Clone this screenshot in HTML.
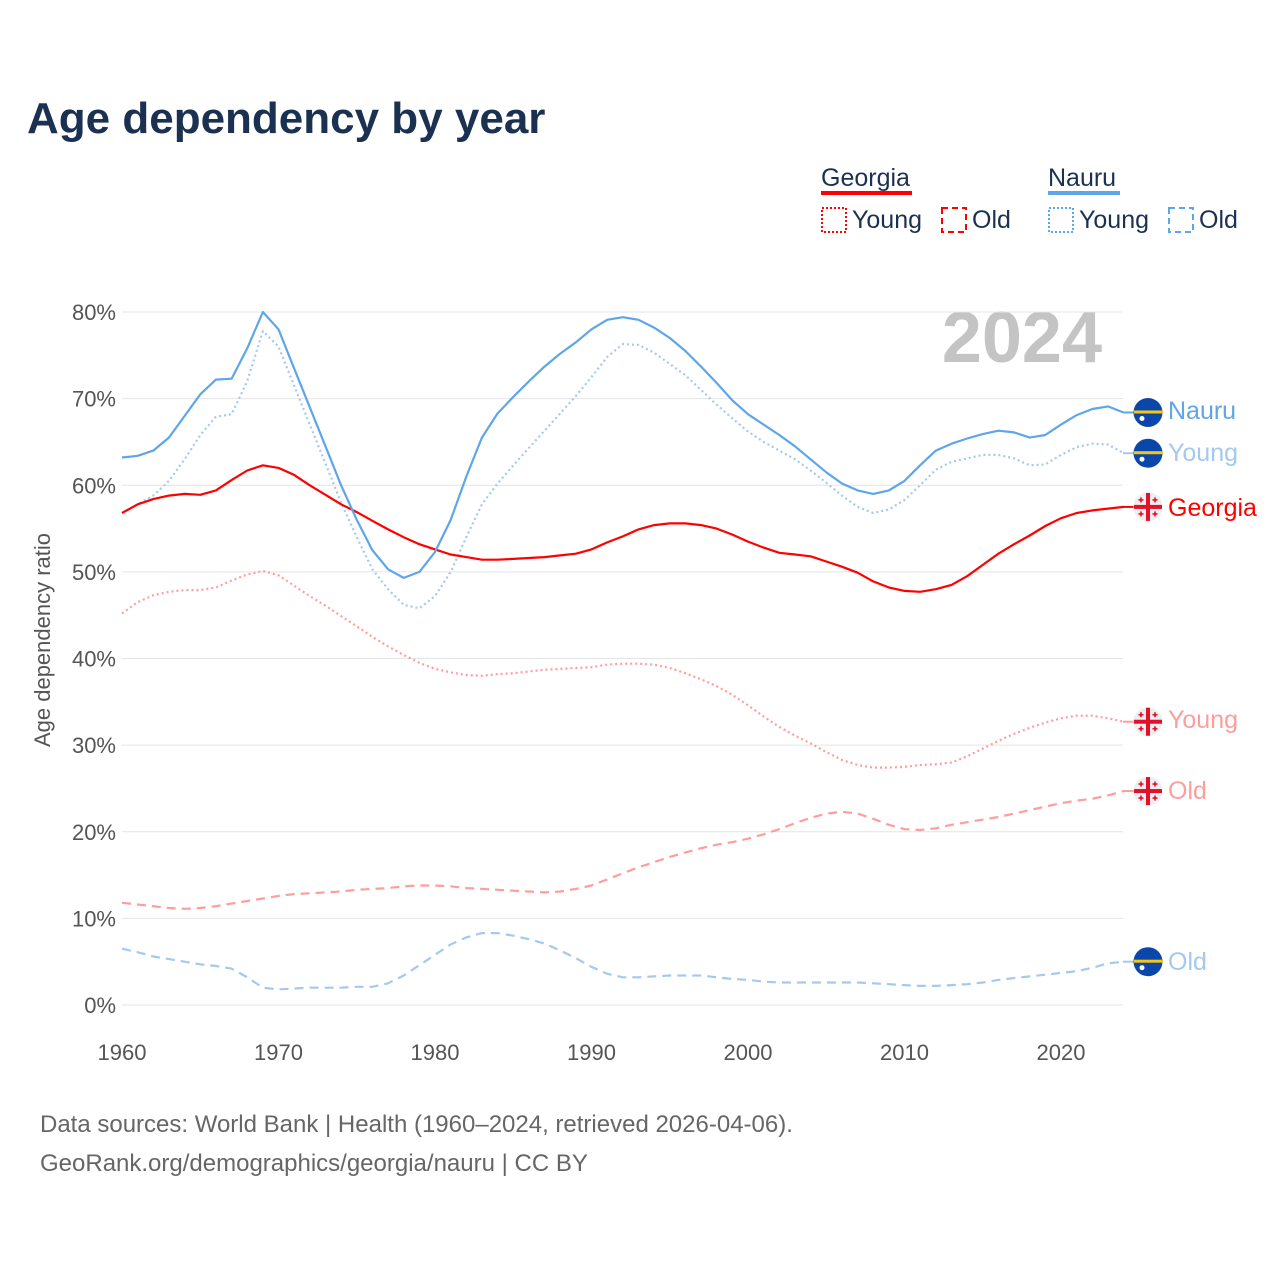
<!DOCTYPE html>
<html><head><meta charset="utf-8"><style>
body{margin:0;background:#fff;font-family:"Liberation Sans",sans-serif}
</style></head><body>
<svg id="c" width="1280" height="1280" viewBox="0 0 1280 1280" style="display:block">
<text x="27" y="133" font-size="44" font-weight="bold" fill="#1b3152">Age dependency by year</text>
<g font-size="25" fill="#1b3152">
<text x="821" y="186">Georgia</text>
<rect x="821" y="191" width="91" height="4" fill="#ff0000"/>
<text x="1048" y="186">Nauru</text>
<rect x="1048" y="191" width="72" height="4" fill="#5ea5ea"/>
<rect x="822" y="208" width="24" height="24" fill="none" stroke="#ff0000" stroke-width="2" stroke-dasharray="2 2"/>
<text x="852" y="228">Young</text>
<rect x="942" y="208" width="24" height="24" fill="none" stroke="#ff0000" stroke-width="2" stroke-dasharray="6 4"/>
<text x="972" y="228">Old</text>
<rect x="1049" y="208" width="24" height="24" fill="none" stroke="#5ea5ea" stroke-width="2" stroke-dasharray="2 2"/>
<text x="1079" y="228">Young</text>
<rect x="1169" y="208" width="24" height="24" fill="none" stroke="#5ea5ea" stroke-width="2" stroke-dasharray="6 4"/>
<text x="1199" y="228">Old</text>
</g>
<text x="1102" y="362" font-size="72" font-weight="bold" fill="#c4c4c4" text-anchor="end">2024</text>
<text transform="translate(50,640) rotate(-90)" font-size="22" fill="#555" text-anchor="middle">Age dependency ratio</text>
<g id="grid"></g><g id="series"></g><g id="ends"></g>
<text x="40" y="1132" font-size="24" fill="#666">Data sources: World Bank | Health (1960–2024, retrieved 2026-04-06).</text>
<text x="40" y="1171" font-size="24" fill="#666">GeoRank.org/demographics/georgia/nauru | CC BY</text>
</svg>
<script>
const years=[];for(let y=1960;y<=2024;y++)years.push(y);
const yTicks=[0,10,20,30,40,50,60,70,80];
const xTicks=[1960,1970,1980,1990,2000,2010,2020];
const nauruTotal=[63.2,63.4,64.0,65.5,68,70.5,72.2,72.3,75.8,80,78,73.5,69,64.5,60,56,52.5,50.3,49.3,50,52.3,56,61,65.5,68.3,70.2,72,73.7,75.2,76.5,78,79.1,79.4,79.1,78.2,77,75.5,73.7,71.8,69.8,68.2,67,65.8,64.5,63,61.5,60.2,59.4,59,59.4,60.5,62.3,64,64.8,65.4,65.9,66.3,66.1,65.5,65.8,67,68.1,68.8,69.1,68.4];
const nauruYoung=[56.8,57.8,58.8,60.5,63,65.8,67.9,68.2,72,77.8,76,71.5,67,62.5,58,54,50.3,48,46.2,45.8,47.2,50,54,57.8,60.2,62.3,64.3,66.3,68.3,70.3,72.5,74.8,76.3,76.2,75.3,74,72.7,71,69.3,67.7,66.2,65,64,63,61.7,60.3,58.8,57.5,56.8,57.2,58.3,60,61.8,62.7,63.1,63.5,63.5,63.1,62.3,62.4,63.5,64.4,64.8,64.7,63.7];
const nauruOld=[6.5,6.1,5.6,5.3,5.0,4.7,4.5,4.2,3.2,2.0,1.8,1.9,2.0,2.0,2.0,2.1,2.1,2.5,3.4,4.6,5.8,7.0,7.8,8.3,8.3,8.0,7.6,7.1,6.3,5.4,4.4,3.6,3.2,3.2,3.3,3.4,3.4,3.4,3.2,3.0,2.9,2.7,2.6,2.6,2.6,2.6,2.6,2.6,2.5,2.4,2.3,2.2,2.2,2.3,2.4,2.6,2.9,3.1,3.3,3.5,3.7,3.9,4.3,4.8,5.0];
const georgiaTotal=[56.8,57.8,58.4,58.8,59,58.9,59.4,60.6,61.7,62.3,62,61.2,60,58.9,57.8,56.9,55.9,54.9,54,53.2,52.6,52,51.7,51.4,51.4,51.5,51.6,51.7,51.9,52.1,52.6,53.4,54.1,54.9,55.4,55.6,55.6,55.4,55,54.3,53.5,52.8,52.2,52,51.8,51.2,50.6,49.9,48.9,48.2,47.8,47.7,48,48.5,49.5,50.8,52.1,53.2,54.2,55.3,56.2,56.8,57.1,57.3,57.5];
const georgiaYoung=[45.2,46.5,47.3,47.7,47.9,47.9,48.2,49,49.7,50.1,49.6,48.4,47.2,46.1,44.9,43.7,42.5,41.4,40.4,39.5,38.8,38.4,38.1,38,38.2,38.3,38.5,38.7,38.8,38.9,39,39.3,39.4,39.4,39.3,38.9,38.3,37.6,36.8,35.8,34.6,33.3,32.1,31.1,30.2,29.2,28.3,27.7,27.4,27.4,27.5,27.7,27.8,28,28.7,29.6,30.5,31.3,32,32.6,33.1,33.4,33.4,33.1,32.7];
const georgiaOld=[11.8,11.6,11.4,11.2,11.1,11.2,11.4,11.7,12.0,12.3,12.6,12.8,12.9,13.0,13.1,13.3,13.4,13.5,13.7,13.8,13.8,13.7,13.5,13.4,13.3,13.2,13.1,13.0,13.1,13.4,13.8,14.5,15.2,15.9,16.5,17.1,17.6,18.1,18.5,18.8,19.2,19.7,20.3,21.0,21.6,22.1,22.3,22.1,21.5,20.8,20.3,20.2,20.4,20.8,21.1,21.4,21.7,22.1,22.5,22.9,23.3,23.6,23.8,24.2,24.7];
const NS='http://www.w3.org/2000/svg';
const X=y=>122+(y-1960)*(939/60);
const Y=v=>1005-v*8.6625;
function mk(t,a,p){const e=document.createElementNS(NS,t);for(const k in a)e.setAttribute(k,a[k]);p.appendChild(e);return e;}
const grid=document.getElementById('grid');
yTicks.forEach(v=>{
 const l=mk('line',{x1:122,x2:1123,y1:Y(v),y2:Y(v),stroke:'#e4e4e4','stroke-width':1},grid);
 
 
 const t=mk('text',{x:116,y:Y(v)+8,'font-size':22,fill:'#555','text-anchor':'end'},grid);
 t.textContent=v+'%';
 
 
});
xTicks.forEach(v=>{
 const t=mk('text',{x:X(v),y:1060,'font-size':22,fill:'#555','text-anchor':'middle'},grid);
 t.textContent=v;
 
 
});
const sg=document.getElementById('series');
const defs=[
 [nauruOld,'#a3c9f0','9 6','nauru-old-line'],
 [georgiaOld,'#ff9d9d','9 6','georgia-old-line'],
 [georgiaYoung,'#ff9d9d','2 3','georgia-young-line'],
 [nauruYoung,'#a3c9f0','2 3','nauru-young-line'],
 [georgiaTotal,'#ff0000','','georgia-total-line'],
 [nauruTotal,'#5ea5ea','','nauru-total-line']];
defs.forEach(([d,c,da,n])=>{
 const p=mk('path',{d:'M'+d.map((v,i)=>X(years[i]).toFixed(1)+','+Y(v).toFixed(1)).join('L'),fill:'none',stroke:c,'stroke-width':2.2,'stroke-dasharray':da,'stroke-linejoin':'round'},sg);
 
 
});
const eg=document.getElementById('ends');
const ends=[[nauruTotal,'Nauru','#5ea5ea','nauru',410],[nauruYoung,'Young','#a3c9f0','nauru',452],[georgiaTotal,'Georgia','#ff0000','georgia',507],[georgiaYoung,'Young','#ff9d9d','georgia',719],[georgiaOld,'Old','#ff9d9d','georgia',790],[nauruOld,'Old','#a3c9f0','nauru',961]];
ends.forEach(([d,lab,c,f,ly],i)=>{
 const cy=Y(d[d.length-1]);
 const g=mk('g',{},eg);
 
 
 mk('line',{x1:1123,x2:1134,y1:cy,y2:cy,stroke:c,'stroke-width':2},g);
 if(f==='nauru'){
  mk('circle',{cx:1148,cy:cy,r:14.5,fill:'#0b47a8'},g);
  mk('rect',{x:1134,y:cy-2,width:29,height:3,fill:'#f5c518'},g);
  mk('circle',{cx:1142,cy:cy+6,r:2.5,fill:'#fff'},g);
 }else{
  mk('circle',{cx:1148,cy:cy,r:14.5,fill:'#eee'},g);
  mk('rect',{x:1146,y:cy-14,width:4,height:28,fill:'#e3102b'},g);
  mk('rect',{x:1134,y:cy-2,width:28,height:4,fill:'#e3102b'},g);
  [[-7,-7],[7,-7],[-7,7],[7,7]].forEach(([dx,dy])=>{mk('rect',{x:1148+dx-2.5,y:cy+dy-0.8,width:5,height:1.6,fill:'#e3102b'},g);mk('rect',{x:1148+dx-0.8,y:cy+dy-2.5,width:1.6,height:5,fill:'#e3102b'},g);});
 }
 const t=mk('text',{x:1168,y:ly+9,'font-size':25,fill:c},g);
 t.textContent=lab;
});
</script>
</body></html>
